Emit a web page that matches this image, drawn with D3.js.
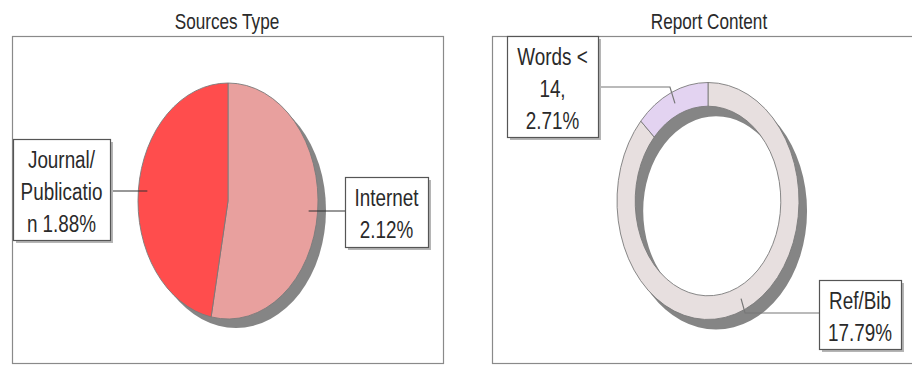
<!DOCTYPE html>
<html>
<head>
<meta charset="utf-8">
<script src="https://cdn.jsdelivr.net/npm/d3@7"></script>
<style>
	body { margin: 0; background: #fff; }
	svg { display: block; }
	text { font-family: "Liberation Sans", Arial, sans-serif; fill: #2a2a2a; }
</style>
</head>
<body>
<div id="chart"></div>
<script>
// data ///////////////////////////////////////////////////////////////////////
var sourceNames = ['Internet', 'Journal/Publication'];
var sourceValues = [2.12, 1.88];
var sourceLabels = [['Internet', '2.12%'], ['Journal/', 'Publicatio', 'n 1.88%']];
var sourceColors = ['#e8a09e', '#ff4d4d'];

var contentNames = ['Ref/Bib', 'Words < 14'];
var contentValues = [17.79, 2.71];
var contentLabels = [['Ref/Bib', '17.79%'], ['Words <', '14,', '2.71%']];
var contentColors = ['#e7dfdf', '#e3d3f1'];

var titles = ['Sources Type', 'Report Content'];

// layout /////////////////////////////////////////////////////////////////////
var width = 912, height = 365;
var lineh = 32;
var narrow = 0.77;	// no condensed font installed, squeeze Liberation Sans instead

var panels = [
	{title: titles[0], tx: 227, frame: [12.5, 36.5, 431, 327], cx: 228, cy: 201, rx: 90, ry: 118, inner: 0, shadow: [8, 9],
		values: sourceValues, names: sourceNames, labels: sourceLabels, colors: sourceColors,
		boxes: [{x: 345, y: 177, w: 83, h: 70, side: 'left'}, {x: 13, y: 139, w: 97, h: 101, side: 'right'}]},
	{title: titles[1], tx: 709, frame: [492.5, 36.5, 440, 327], cx: 708, cy: 201, rx: 91, ry: 118.5, inner: 0.8, shadow: [8, 10],
		values: contentValues, names: contentNames, labels: contentLabels, colors: contentColors,
		boxes: [{x: 819, y: 280, w: 82, h: 69, side: 'left', elbow: true}, {x: 507, y: 36, w: 91, h: 101, side: 'right', elbow: true}]}
];

var svg = d3.select('#chart').append('svg')
	.attr('width', width)
	.attr('height', height);

var pie = d3.pie().sort(null).value(function(d) { return d; });

panels.forEach(function(p) {
	var g = svg.append('g');

	g.append('rect')
		.attr('x', p.frame[0]).attr('y', p.frame[1])
		.attr('width', p.frame[2]).attr('height', p.frame[3])
		.attr('fill', 'none')
		.attr('stroke', '#8a8a8a')
		.attr('stroke-width', 1.2);

	g.append('text')
		.attr('transform', 'translate(' + p.tx + ',29) scale(0.78,1)')
		.attr('text-anchor', 'middle')
		.style('font-size', '22px')
		.text(p.title);

	var arcs = pie(p.values);
	var arc = d3.arc().innerRadius(p.ry * p.inner).outerRadius(p.ry);
	var full = d3.arc().innerRadius(p.ry * p.inner).outerRadius(p.ry).startAngle(0).endAngle(2 * Math.PI);
	var sx = p.rx / p.ry;

	// shadow
	g.append('path')
		.attr('transform', 'translate(' + (p.cx + p.shadow[0]) + ',' + (p.cy + p.shadow[1]) + ') scale(' + sx + ',1)')
		.attr('d', full())
		.attr('fill', '#858585');

	var pg = g.append('g')
		.attr('transform', 'translate(' + p.cx + ',' + p.cy + ') scale(' + sx + ',1)');

	pg.selectAll('path.slice')
		.data(arcs)
		.enter().append('path')
		.attr('class', 'slice')
		.attr('d', arc)
		.attr('fill', function(d, i) { return p.colors[i]; })
		.attr('stroke', '#7a7a7a')
		.attr('stroke-width', 0.9)
		.attr('vector-effect', 'non-scaling-stroke');

	arcs.forEach(function(d, i) {
		var b = p.boxes[i];
		var mid = (d.startAngle + d.endAngle) / 2;
		var r = p.inner ? (1 + p.inner) / 2 : 0.9;
		var ax = p.cx + Math.sin(mid) * r * p.rx;
		var ay = p.cy - Math.cos(mid) * r * p.ry;
		var bx = b.side === 'left' ? b.x : b.x + b.w;
		var by = b.elbow ? b.y + (b.side === 'left' ? 33 : 51) : ay;
		var pts = [[ax, ay]];
		if(b.elbow)
			pts.push([ax + (b.side === 'left' ? 4 : -5), by]);
		pts.push([bx, by]);

		g.append('path')
			.attr('d', d3.line()(pts))
			.attr('fill', 'none')
			.attr('stroke', b.elbow ? '#777' : '#333')
			.attr('stroke-width', 1.2);

		// label box with shadow
		g.append('rect')
			.attr('x', b.x + 3).attr('y', b.y + 3)
			.attr('width', b.w).attr('height', b.h)
			.attr('fill', '#b5b5b5');
		g.append('rect')
			.attr('x', b.x + 0.5).attr('y', b.y + 0.5)
			.attr('width', b.w).attr('height', b.h)
			.attr('fill', '#fff')
			.attr('stroke', '#555')
			.attr('stroke-width', 1.2);

		g.append('text')
			.attr('transform', 'translate(' + (b.x + b.w / 2) + ',0) scale(' + narrow + ',1)')
			.attr('text-anchor', 'middle')
			.style('font-size', '24.5px')
			.selectAll('tspan')
			.data(p.labels[i])
			.enter().append('tspan')
			.attr('x', 0)
			.attr('y', function(t, j) { return b.y + 29 + j * lineh; })
			.text(function(t) { return t; });
	});
});
</script>
</body>
</html>
